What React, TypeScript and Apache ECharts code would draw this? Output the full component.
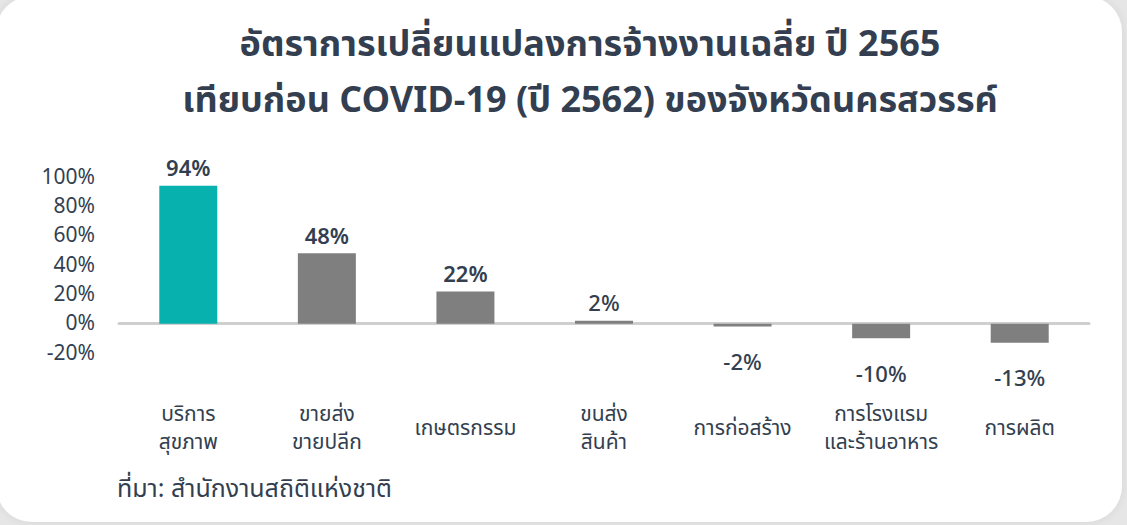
import React, { useEffect, useRef } from "react";
import * as echarts from "echarts";

const titleLines = [
  "อัตราการเปลี่ยนแปลงการจ้างงานเฉลี่ย ปี 2565",
  "เทียบก่อน COVID-19 (ปี 2562) ของจังหวัดนครสวรรค์",
];
const categories = [
  "บริการ\nสุขภาพ",
  "ขายส่ง\nขายปลีก",
  "เกษตรกรรม",
  "ขนส่ง\nสินค้า",
  "การก่อสร้าง",
  "การโรงแรม\nและร้านอาหาร",
  "การผลิต",
];
const values = [94, 48, 22, 2, -2, -10, -13];
const yTicks = { min: -20, max: 100, interval: 20 };
const sourceText = "ที่มา: สำนักงานสถิติแห่งชาติ";

const FONT = '"Noto Sans Thai", "Noto Sans", "DejaVu Sans", sans-serif';
const TEXT = "#333f50";

export default function App() {
  const ref = useRef<HTMLDivElement>(null);
  useEffect(() => {
    document.body.style.margin = "0";
    const chart = echarts.init(ref.current!, null, { renderer: "svg" });
    chart.setOption({
      animation: false,
      backgroundColor: "#e6e6e6",
      textStyle: { fontFamily: FONT },
      graphic: [
        {
          type: "rect",
          z: -10,
          silent: true,
          shape: { x: -4, y: -4, width: 1126, height: 526, r: 36 },
          style: { fill: "#ffffff", shadowBlur: 8, shadowColor: "rgba(0,0,0,0.08)" },
        },
        {
          type: "text",
          x: 590,
          y: 17,
          style: {
            text: titleLines.join("\n"),
            font: `bold 36px ${FONT}`,
            fill: TEXT,
            align: "center",
            verticalAlign: "top",
            lineHeight: 56,
          },
        },
        {
          type: "text",
          left: 117,
          top: 476,
          style: { text: sourceText, font: `25px ${FONT}`, fill: TEXT },
        },
      ],
      grid: { left: 119, right: 38, top: 177, height: 176 },
      xAxis: {
        type: "category",
        data: categories,
        axisLine: { onZero: true, lineStyle: { color: "#cfcfcf", width: 3 } },
        axisTick: { show: false },
        axisLabel: {
          interval: 0,
          margin: 75,
          verticalAlign: "middle",
          lineHeight: 28,
          fontSize: 21,
          color: TEXT,
          fontFamily: FONT,
        },
      },
      yAxis: {
        type: "value",
        min: yTicks.min,
        max: yTicks.max,
        interval: yTicks.interval,
        axisLine: { show: false },
        axisTick: { show: false },
        splitLine: { show: false },
        axisLabel: {
          formatter: "{value}%",
          margin: 24,
          fontSize: 21,
          color: TEXT,
          fontFamily: FONT,
        },
      },
      series: [
        {
          type: "bar",
          barWidth: 58,
          data: values.map((v, i) => ({
            value: v,
            itemStyle: { color: i === 0 ? "#07b1ae" : "#7f7f7f" },
            label: {
              show: true,
              position: v >= 0 ? "top" : "bottom",
              distance: v >= 0 ? 5 : 26,
              formatter: "{c}%",
              fontSize: 22,
              fontWeight: v >= 20 ? 600 : 500,
              color: TEXT,
              fontFamily: FONT,
            },
          })),
        },
      ],
    });
    return () => chart.dispose();
  }, []);
  return <div ref={ref} style={{ width: 1127, height: 525 }} />;
}
